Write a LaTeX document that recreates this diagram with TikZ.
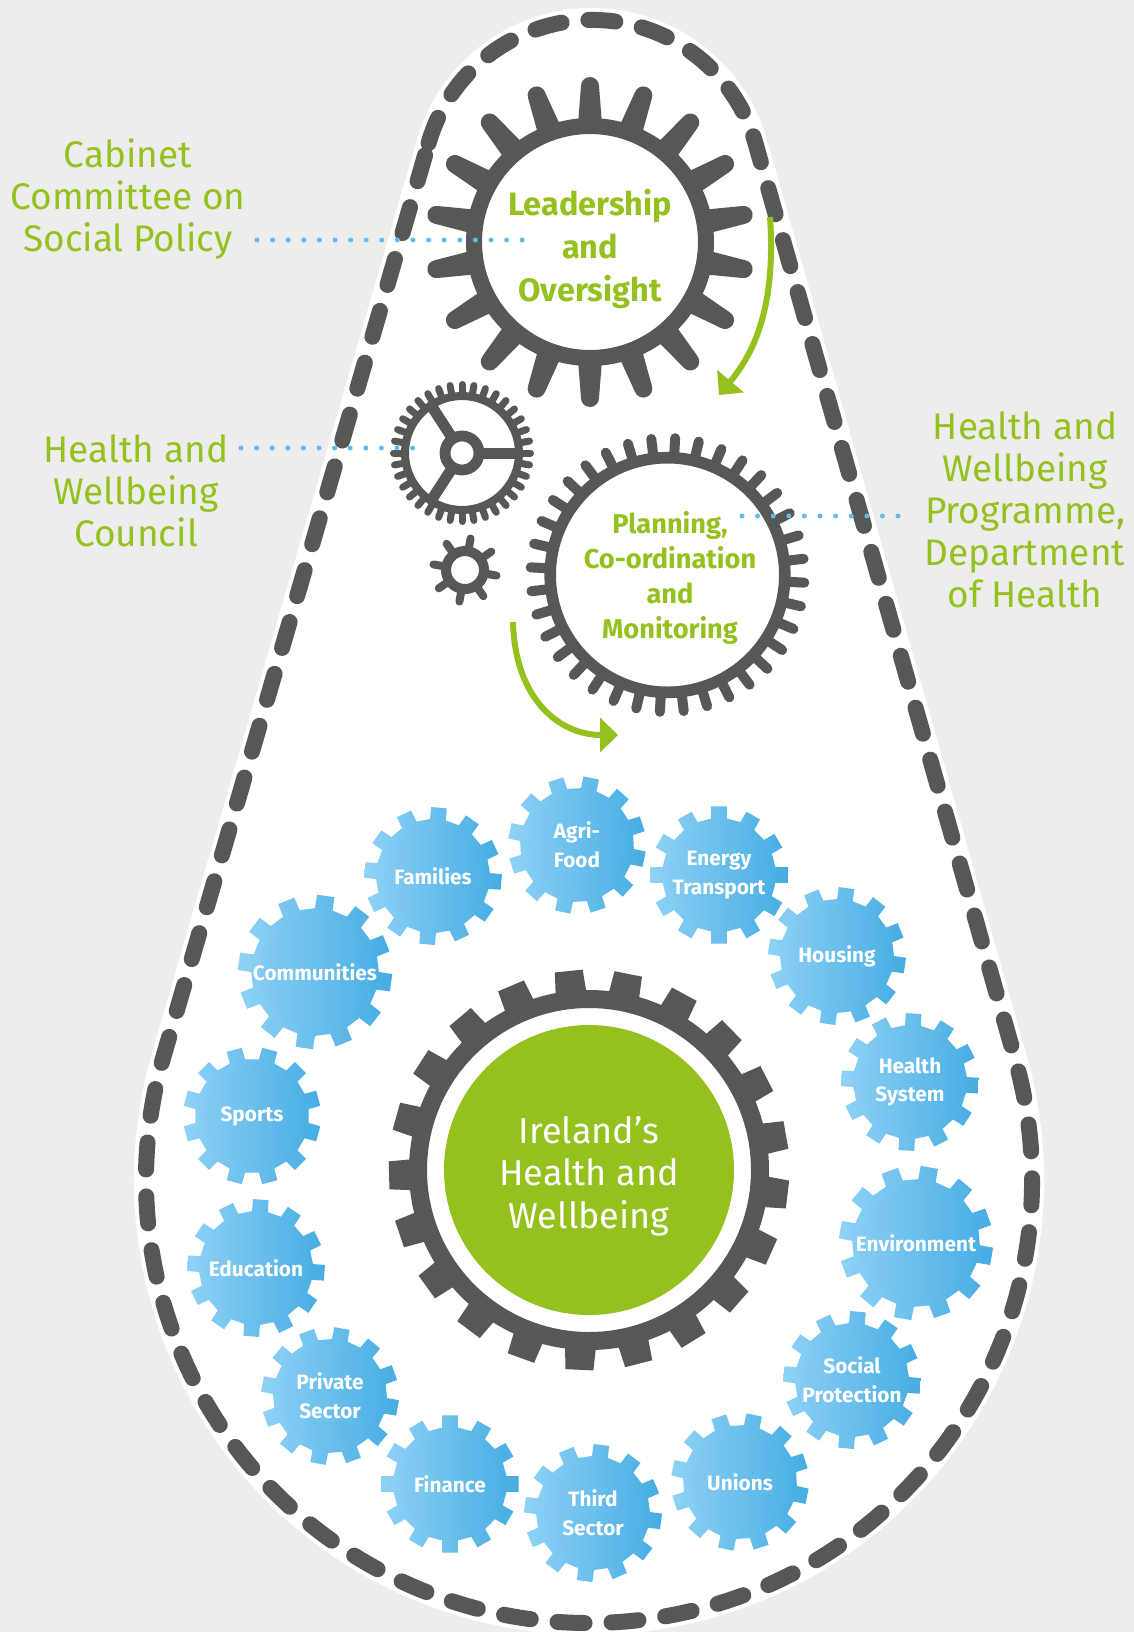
\documentclass[tikz,border=0pt]{standalone}
\usepackage{fontspec}
\setmainfont{Fira Sans}
\usetikzlibrary{arrows.meta,calc}
\definecolor{ggreen}{HTML}{95C11F}
\definecolor{ggray}{HTML}{575756}
\definecolor{bgray}{HTML}{EDEDED}
\definecolor{dotblue}{HTML}{62BCEA}
\definecolor{blight}{HTML}{8FD2F6}
\definecolor{bdark}{HTML}{45ACE2}
\definecolor{ilight}{HTML}{84CBF2}
\definecolor{idark}{HTML}{50B2E6}
\tikzset{
  outline/.style={ggray, line width=8pt, line cap=round, dash pattern=on 13.5pt off 13.5pt},
  dotline/.style={dotblue, line width=2.5pt, line cap=round, dash pattern=on 0pt off 7.8pt},
  flowarrow/.style={ggreen, line width=3pt, -{Triangle[width=17pt,length=9pt]}},
  sidelabel/.style={text=ggreen, align=center, inner sep=0pt, font=\fontsize{18.5}{21}\selectfont},
  leadtext/.style={text=ggreen, align=center, inner sep=0pt, font=\bfseries\fontsize{16.2}{21.5}\selectfont},
  plantext/.style={text=ggreen, align=center, inner sep=0pt, font=\bfseries\fontsize{13.6}{17.5}\selectfont},
  centertext/.style={text=white, align=center, inner sep=0pt, font=\fontsize{18}{21.2}\selectfont},
  gearlabel/.style={text=white, align=center, inner sep=0pt, font=\bfseries\fontsize{10.4}{14.3}\selectfont},
}
\newcommand{\bluegear}[6]{%
  \begin{scope}[shift={(#1,#2)}, scale=#3]
    \shade[left color=blight, right color=bdark]
      ({#4-8}:57) \foreach \k in {0,...,11} {
        -- ({#4+30*\k-8}:57) -- ({#4+30*\k-6.5}:69) -- ({#4+30*\k+6.5}:69) -- ({#4+30*\k+8}:57) -- ({#4+30*\k+22}:57)
      } -- cycle;
    \shade[left color=ilight, right color=idark] (0,0) circle[radius=49];
  \end{scope}
  \node[gearlabel] (#5) at (#1,#2) {#6};
}
\begin{document}
\begin{tikzpicture}[x=0.5pt,y=-0.5pt]
\useasboundingbox (0,0) rectangle (1134,1632);
\fill[bgray] (0,0) rectangle (1134,1632);
% teardrop frame
\fill[white] (428.6,143.1) arc[start angle=196, end angle=344, radius=170] -- (1014.8,1057.8) arc[start angle=-16, end angle=196, radius=443] -- cycle;
\draw[white, line width=12pt] (428.6,143.1) arc[start angle=196, end angle=344, radius=170] -- (1014.8,1057.8) arc[start angle=-16, end angle=196, radius=443] -- cycle;
\draw[outline] (428.6,143.1) arc[start angle=196, end angle=344, radius=170] -- (1014.8,1057.8) arc[start angle=-16, end angle=196, radius=443] -- cycle;

% top gear
\begin{scope}[shift={(590,242)}]
  \foreach \a in {10,30,...,350}
    \fill[ggray, rotate=\a] (118,-12) -- (156,-9) arc[start angle=-90, end angle=90, radius=9] -- (118,12) -- cycle;
  \draw[ggray, line width=8pt] (0,0) circle[radius=116];
\end{scope}
\node[leadtext] (lead) at (590,249) {Leadership\\and\\Oversight};

% council gear
\begin{scope}[shift={(462,453)}]
  \foreach \i in {0,...,35}
    \draw[ggray, line width=3.5pt, line cap=round, rotate=\i*10] (58,0) -- (68.5,0);
  \draw[ggray, line width=4pt] (0,0) circle[radius=57];
  \draw[ggray, line width=5.4pt] (0,0) circle[radius=17];
  \foreach \a in {0,123,237}
    \draw[ggray, line width=5.5pt, rotate=\a] (21,0) -- (56,0);
\end{scope}

% small gear
\begin{scope}[shift={(465,570)}]
  \foreach \i in {0,...,7}
    \draw[ggray, line width=4pt, line cap=round, rotate=35+\i*45] (20,0) -- (32,0);
  \draw[ggray, line width=5pt] (0,0) circle[radius=19];
\end{scope}

% planning gear
\begin{scope}[shift={(667.5,575)}]
  \foreach \i in {0,...,35}
    \draw[ggray, line width=5pt, line cap=round, rotate=6.8+\i*10] (118,0) -- (137,0);
  \draw[ggray, line width=5.8pt] (0,0) circle[radius=117.3];
\end{scope}
\node[plantext] (plan) at (670,578) {Planning,\\Co-ordination\\and\\Monitoring};

% arrows
\coordinate (a1s) at (770,217);
\coordinate (a1e) at (719,395);
\draw[flowarrow] (a1s) .. controls (776,305) and (755,352) .. (a1e);
\coordinate (a2s) at (513,622);
\coordinate (a2e) at (618,735);
\draw[flowarrow] (a2s) .. controls (515,700) and (560,735) .. (a2e);

% central gear
\begin{scope}[shift={(589,1170)}]
  \foreach \i in {0,...,20}
    \fill[ggray, rotate=10.1+\i*17.143] (176,-15.5) -- (200,-14) -- (200,14) -- (176,15.5) -- cycle;
  \draw[ggray, line width=9pt] (0,0) circle[radius=171];
  \fill[ggreen] (0,0) circle[radius=145];
\end{scope}
\node[centertext] (ireland) at (589,1176) {Ireland’s\\Health and\\Wellbeing};

% blue gears
\bluegear{433}{876}{1}{5}{families}{Families}
\bluegear{577}{845}{1}{12}{agri}{Agri-\\Food}
\bluegear{719}{875}{1}{0}{energy}{Energy\\Transport}
\bluegear{837}{956}{1}{8}{housing}{Housing}
\bluegear{910}{1082}{1}{3}{hsystem}{Health\\System}
\bluegear{916}{1243}{1.12}{10}{environment}{Environment}
\bluegear{852}{1380}{1}{5}{social}{Social\\Protection}
\bluegear{740}{1482}{1}{12}{unions}{Unions}
\bluegear{593}{1513}{1}{7}{third}{Third\\Sector}
\bluegear{450}{1484}{1}{0}{finance}{Finance}
\bluegear{330}{1396}{1}{10}{private}{Private\\Sector}
\bluegear{256}{1268}{1}{4}{education}{Education}
\bluegear{252}{1116}{1}{15}{sports}{Sports}
\bluegear{315}{972}{1.12}{8}{communities}{Communities}

% side labels
\node[sidelabel] (cab) at (128,199) {Cabinet\\Committee on\\Social Policy};
\node[sidelabel] (council) at (136,491) {Health and\\Wellbeing\\Council};
\node[sidelabel] (prog) at (1025,510) {Health and\\Wellbeing\\Programme,\\Department\\of Health};

% dotted leaders
\coordinate (cabL) at (257,240);
\coordinate (cabR) at (523,240);
\draw[dotline] (cabL) -- (cabR);
\coordinate (couL) at (241,448);
\coordinate (couR) at (414,448);
\draw[dotline] (couL) -- (couR);
\coordinate (proL) at (742,516);
\coordinate (proR) at (906,516);
\draw[dotline] (proL) -- (proR);
\end{tikzpicture}
\end{document}
